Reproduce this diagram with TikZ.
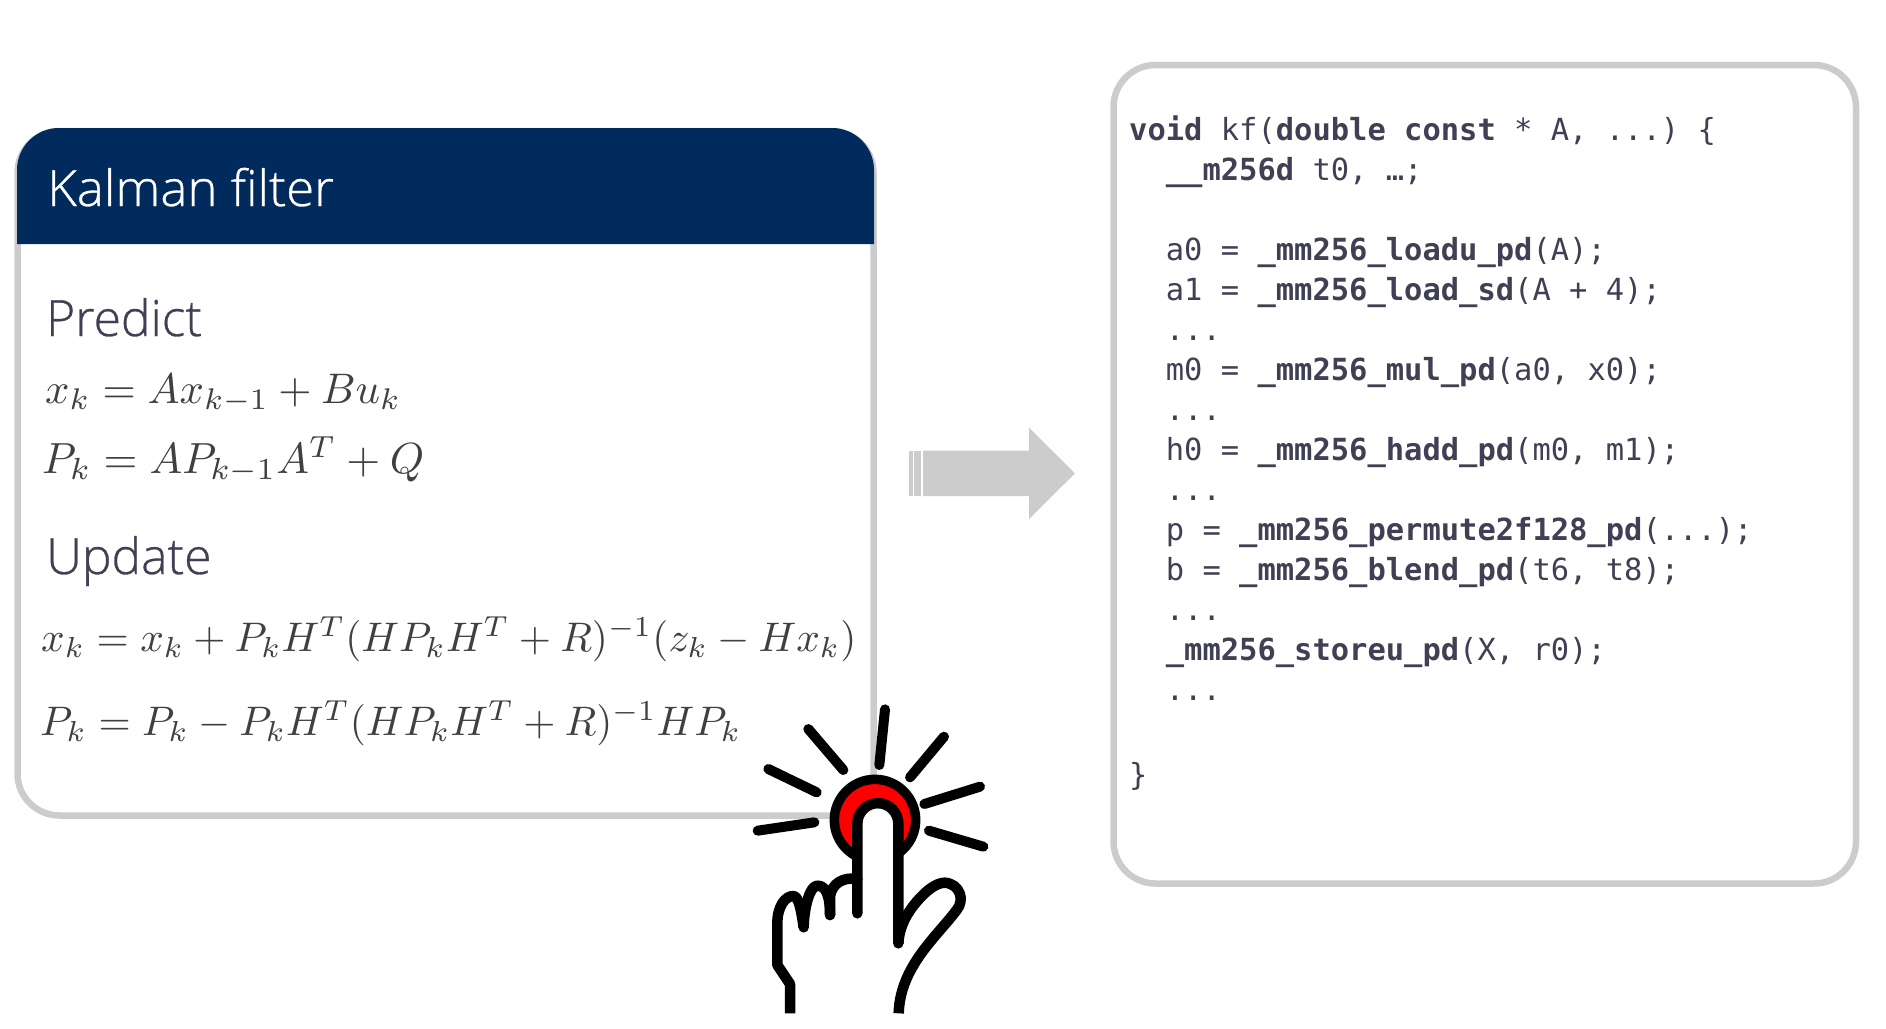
\documentclass[tikz,border=0pt]{standalone}
\usepackage{graphicx}
\usepackage{fontspec}
\setmainfont{Open Sans}
\newfontfamily\titlefont[FakeStretch=1.02,FakeBold=0.6]{Open Sans Light}
\newfontfamily\headfont[FakeStretch=0.995,FakeBold=0.6]{Open Sans Light}
\setmonofont{DejaVu Sans Mono}
\definecolor{navy}{HTML}{002B5C}
\definecolor{edgegray}{HTML}{CCCCCC}
\definecolor{inkgray}{HTML}{404054}
\definecolor{mathgray}{HTML}{404040}
\tikzset{
  panel/.style={draw=edgegray,line width=6.5pt,rounded corners=42pt,fill=white},
  titletext/.style={anchor=base west,inner sep=0pt,text=white,font=\titlefont\fontsize{50}{60}\selectfont},
  headtext/.style={anchor=base west,inner sep=0pt,text=inkgray,font=\headfont\fontsize{50}{60}\selectfont},
  eqn/.style={anchor=base west,inner sep=0pt,text=mathgray},
  codetext/.style={anchor=north west,inner sep=0pt,align=left,text=inkgray,font=\ttfamily\fontsize{30.45}{40}\selectfont},
  ray/.style={line width=10pt,line cap=round,black},
  handline/.style={line width=10.5pt,black,line cap=round,line join=round},
}
\newcommand{\bb}[1]{\textbf{#1}}
\begin{document}
\begin{tikzpicture}[x=1pt,y=-1pt]
\useasboundingbox (0,0) rectangle (1886,1028);
\fill[white] (0,0) rectangle (1886,1028);
% left panel
\draw[panel] (17.5,131) rectangle (873.5,815.5);
\fill[navy] (17,244) [rounded corners=42pt] -- (17,128) -- (874,128) [sharp corners] -- (874,244) -- cycle;
\node[titletext] (title) at (47,206) {Kalman filter};
\node[headtext] (predict) at (46,336) {Predict};
\node[headtext] (update) at (46,574) {Update};
\node[eqn] (eq1) at (45,403) {\resizebox{356pt}{!}{$x_k = Ax_{k-1} + Bu_k$}};
\node[eqn] (eq2) at (42,473) {\resizebox{382pt}{!}{$P_k = AP_{k-1}A^T + Q$}};
\node[eqn] (eq3) at (41,651) {\resizebox{815pt}{!}{$x_k = x_k + P_kH^T(HP_kH^T+R)^{-1}(z_k - Hx_k)$}};
\node[eqn] (eq4) at (40,735) {\resizebox{701pt}{!}{$P_k = P_k - P_kH^T(HP_kH^T+R)^{-1}HP_k$}};
% arrow
\fill[edgegray] (909,450.7) rectangle (913.3,496);
\fill[edgegray] (914,450.7) rectangle (921,496);
\fill[edgegray] (923,450.7) -- (1029,450.7) -- (1029,427.7) -- (1075,473.3) -- (1029,519) -- (1029,496) -- (923,496) -- cycle;
% right panel
\draw[panel] (1113.5,65) rectangle (1856,883.5);
\node[codetext] (code) at (1129,116) {%
\bb{void} kf(\bb{double const} * A, ...) \{\\
\ \ \bb{\_\_m256d} t0, …;\\
\mbox{}\\
\ \ a0 = \bb{\_mm256\_loadu\_pd}(A);\\
\ \ a1 = \bb{\_mm256\_load\_sd}(A + 4);\\
\ \ ...\\
\ \ m0 = \bb{\_mm256\_mul\_pd}(a0, x0);\\
\ \ ...\\
\ \ h0 = \bb{\_mm256\_hadd\_pd}(m0, m1);\\
\ \ ...\\
\ \ p = \bb{\_mm256\_permute2f128\_pd}(...);\\
\ \ b = \bb{\_mm256\_blend\_pd}(t6, t8);\\
\ \ ...\\
\ \ \bb{\_mm256\_storeu\_pd}(X, r0);\\
\ \ ...\\
\mbox{}\\[5pt]
\}};
% hand
\begin{scope}[shift={(730,680)},x=0.33333pt,y=-0.33333pt]
\draw[black,line width=9.5pt,fill=red] (435,420) circle[radius=122];
\foreach \a/\b/\c/\d in {465/88/448/255,642/170/540/292,750/320/583/372,760/500/597/452,235/147/340/270,115/267/260/337,83/452/253/427}
  \draw[ray] (\a,\b) -- (\c,\d);
% white inside of the hand
\fill[white] (180,1000) -- (180,912) -- (142,855) -- (142,730) .. controls (142,680) and (165,648) .. (190,648)
  .. controls (215,640) and (240,610) .. (265,617) .. controls (290,600) and (340,590) .. (382,597)
  -- (382,431) arc[start angle=180,end angle=360,radius=61.5] -- (505,720)
  .. controls (550,650) and (610,605) .. (645,608) .. controls (690,612) and (705,660) .. (680,690)
  .. controls (620,770) and (510,860) .. (506,1000) -- cycle;
% outline
\draw[handline] (382,700) -- (382,431) arc[start angle=180,end angle=360,radius=61.5] -- (505,790);
\draw[handline,line cap=butt] (180,1000) -- (180,912) -- (142,855) -- (142,730) .. controls (142,680) and (165,648) .. (190,648)
  .. controls (205,650) and (212,680) .. (221,742);
\draw[handline] (221,742) .. controls (222,680) and (240,617) .. (262,617) .. controls (285,617) and (300,640) .. (300,705);
\draw[handline] (300,705) -- (300,650) .. controls (305,610) and (340,590) .. (382,597);
\draw[handline,line cap=butt] (505,790) .. controls (508,740) and (530,700) .. (560,665) .. controls (590,630) and (620,608) .. (645,608)
  .. controls (690,612) and (705,660) .. (680,690) .. controls (620,770) and (510,860) .. (506,1000);
\end{scope}
\end{tikzpicture}
\end{document}
